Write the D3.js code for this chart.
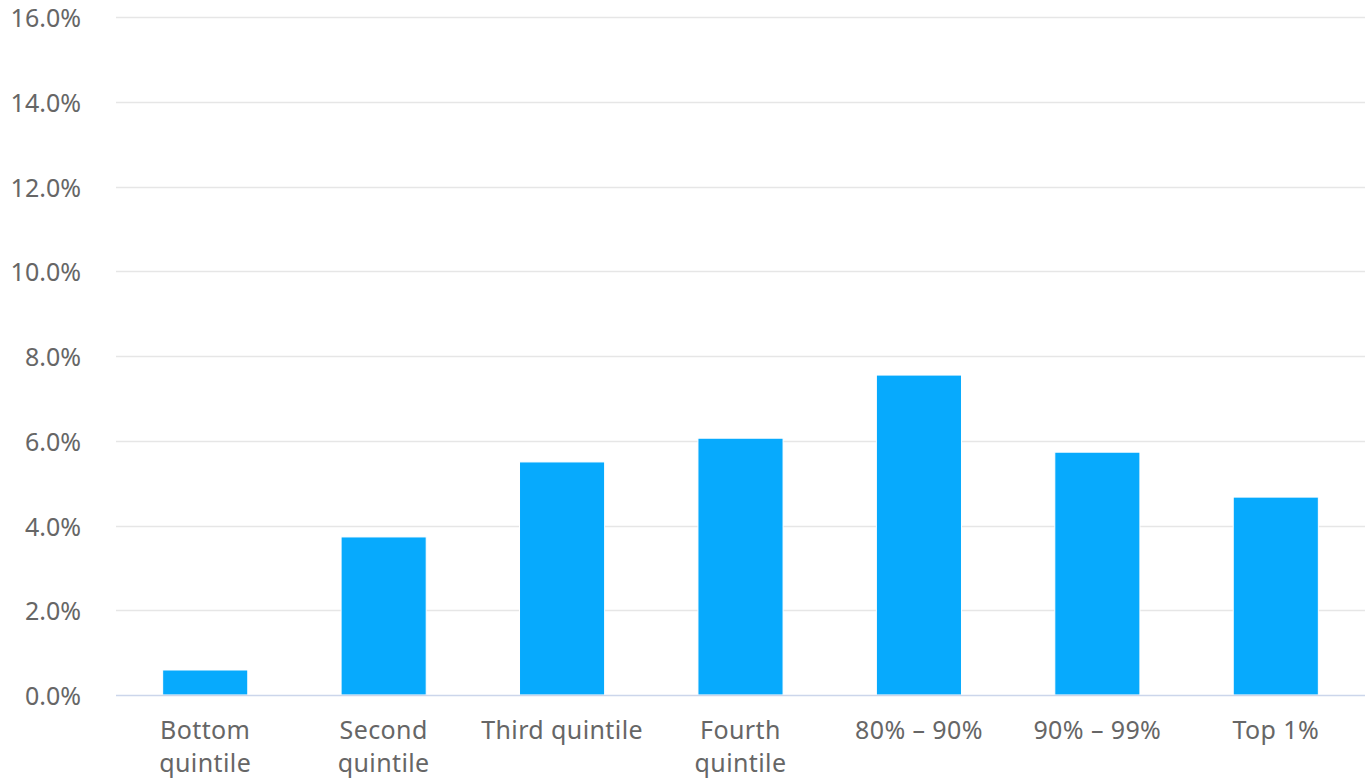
<!DOCTYPE html>
<html><head><meta charset="utf-8">
<script src="https://cdn.jsdelivr.net/npm/d3@7"></script>
<style>
html,body{margin:0;padding:0;background:#fff;}
svg{display:block;}
text{font-family:"Noto Sans","Open Sans",sans-serif;}
</style></head>
<body>
<svg id="chart" width="1371" height="778"></svg>
<script>
const categories = [["Bottom","quintile"],["Second","quintile"],["Third quintile"],["Fourth","quintile"],["80% \u2013 90%"],["90% \u2013 99%"],["Top 1%"]];
const values = [0.59, 3.73, 5.50, 6.06, 7.55, 5.73, 4.67];
const yTicks = [0, 2, 4, 6, 8, 10, 12, 14, 16];

(function(){
const svg = d3.select("#chart");
const mLeft = 116, mRight = 1365, mTop = 17, mBottom = 695;
const x = d3.scaleBand().domain(d3.range(categories.length)).range([mLeft, mRight]).paddingInner(0.523).paddingOuter(0.2615);
const y = d3.scaleLinear().domain([0, 16]).range([mBottom, mTop]);

// grid
svg.append("g").selectAll("line").data(yTicks.filter(d => d > 0)).join("line")
  .attr("x1", mLeft).attr("x2", mRight)
  .attr("y1", d => Math.round(y(d)) + 0.5).attr("y2", d => Math.round(y(d)) + 0.5)
  .attr("stroke", "#e6e6e6").attr("stroke-width", 1.5);

// y labels
svg.append("g").selectAll("text").data(yTicks).join("text")
  .attr("x", 81).attr("y", d => y(d) + 10)
  .attr("text-anchor", "end")
  .attr("fill", "#666666").attr("font-size", 25)
  .text(d => d.toFixed(1) + "%");

// bars
svg.append("g").selectAll("rect").data(values).join("rect")
  .attr("x", (d, i) => x(i)).attr("width", x.bandwidth())
  .attr("y", d => y(d)).attr("height", d => y(0) - y(d))
  .attr("fill", "#07aafd").attr("stroke", "#ffffff").attr("stroke-width", 1);

// axis line
svg.append("line").attr("x1", mLeft).attr("x2", mRight)
  .attr("y1", mBottom + 0.5).attr("y2", mBottom + 0.5)
  .attr("stroke", "#ccd6eb").attr("stroke-width", 1.5);

// x labels
const xl = svg.append("g").selectAll("text").data(categories).join("text")
  .attr("x", (d, i) => x(i) + x.bandwidth() / 2)
  .attr("y", 739)
  .attr("text-anchor", "middle")
  .attr("fill", "#666666").attr("font-size", 25).attr("letter-spacing", 0.4);
xl.each(function(d, i) {
  const t = d3.select(this);
  d.forEach((line, j) => {
    t.append("tspan").attr("x", x(i) + x.bandwidth() / 2).attr("dy", j === 0 ? 0 : 33).text(line);
  });
});
})();
</script>
</body></html>
